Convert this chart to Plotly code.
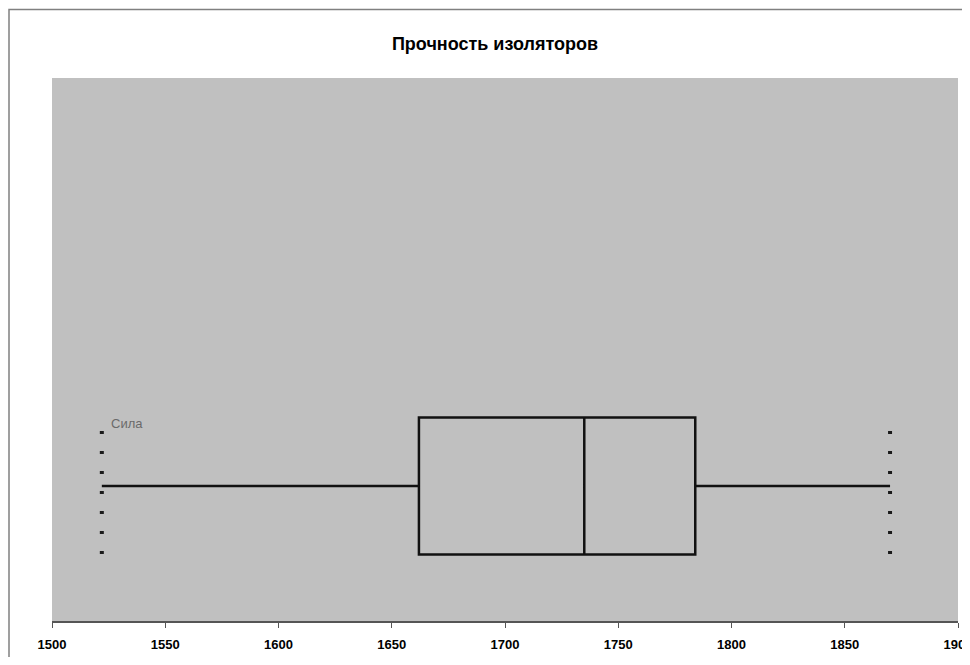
import plotly.graph_objects as go

# Data
series_name = "Сила"
q1 = [1662]
median = [1735]
q3 = [1784]
lower_fence = [1522]
upper_fence = [1870]
x_ticks = [1500, 1550, 1600, 1650, 1700, 1750, 1800, 1850, 1900]
title_text = "Прочность изоляторов"

# page body has an 8px margin; size the figure to fit the 970x665 window
W, H = 954, 649
ML, MR, MT, MB = 44, 4, 70, 36
plot_w = W - ML - MR
plot_h = H - MT - MB

fig = go.Figure()

# Dotted end markers at the fences
for xv in (lower_fence[0], upper_fence[0]):
    fig.add_trace(go.Scatter(
        x=[xv, xv], y=[0.55, -0.70], mode="lines",
        line=dict(color="#1a1a1a", width=4, dash="3px,17px"),
        hoverinfo="skip", showlegend=False))

fig.add_trace(go.Box(
    y=[0], q1=q1, median=median, q3=q3,
    lowerfence=lower_fence, upperfence=upper_fence,
    orientation="h", name=series_name,
    width=1.37, whiskerwidth=0,
    fillcolor="rgba(0,0,0,0)",
    line=dict(color="#111111", width=2.5),
    showlegend=False, hoverinfo="x"))

fig.add_annotation(
    x=lower_fence[0], y=0.63, xref="x", yref="y",
    text=series_name, showarrow=False, xanchor="left", yanchor="middle",
    xshift=7, font=dict(family="Liberation Sans, Arial", size=13, color="#6a6a6a"))

# Outer chart border (left and top visible)
fig.add_shape(type="rect", xref="paper", yref="paper",
              x0=(1 - ML) / plot_w, x1=(W + 10 - ML) / plot_w,
              y0=-(MB + 10) / plot_h, y1=1 + (MT - 1.5) / plot_h,
              line=dict(color="#808080", width=1.5), fillcolor="rgba(0,0,0,0)",
              layer="below")

fig.update_layout(
    width=W, height=H,
    margin=dict(l=ML, r=MR, t=MT, b=MB, autoexpand=False),
    paper_bgcolor="white", plot_bgcolor="#C0C0C0",
    title=dict(text=title_text, x=(487 - ML) / plot_w, xref="paper", xanchor="center",
               y=1 - 36 / H, yanchor="middle",
               font=dict(family="Liberation Sans, Arial", size=18, color="black",
                         weight="bold")),
    xaxis=dict(range=[x_ticks[0], x_ticks[-1]], tickvals=x_ticks,
               showgrid=False, zeroline=False, automargin=False,
               showline=True, linecolor="#555555", linewidth=1.5,
               ticks="outside", ticklen=5, tickcolor="#555555",
               ticklabelstandoff=6, ticklabeloverflow="allow",
               tickfont=dict(family="Liberation Sans, Arial", size=13, color="black",
                             weight="bold")),
    yaxis=dict(range=[-1.35, 4.08], visible=False, showgrid=False, zeroline=False,
               automargin=False),
    showlegend=False,
)

fig.write_html("out.html")
